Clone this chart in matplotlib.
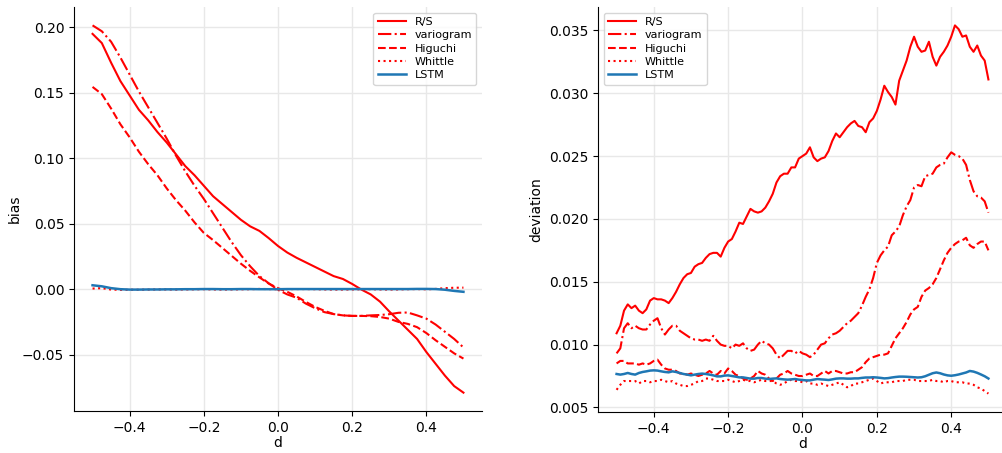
import numpy as np
import matplotlib
matplotlib.use('Agg')
import matplotlib.pyplot as plt

# ---- bias panel (left), read every 0.025 in d ----
d_bias = np.round(np.arange(-0.5, 0.5001, 0.025), 3)

rs_bias = [0.195, 0.188, 0.173, 0.159, 0.148, 0.137, 0.129, 0.120, 0.112, 0.103,
           0.094, 0.087, 0.079, 0.071, 0.065, 0.059, 0.053, 0.048, 0.0445, 0.039,
           0.033, 0.028, 0.024, 0.0205, 0.017, 0.0135, 0.010, 0.0078, 0.004, -0.0003,
           -0.004, -0.0095, -0.017, -0.024, -0.031, -0.038, -0.048, -0.057, -0.066, -0.074,
           -0.079]
vario_bias = [0.2015, 0.197, 0.189, 0.177, 0.164, 0.151, 0.139, 0.127, 0.115, 0.102,
              0.090, 0.079, 0.069, 0.058, 0.047, 0.036, 0.026, 0.0175, 0.010, 0.0045,
              -0.0005, -0.004, -0.0065, -0.011, -0.0145, -0.0175, -0.019, -0.020, -0.0204, -0.0204,
              -0.020, -0.0197, -0.0191, -0.018, -0.0178, -0.020, -0.0225, -0.027, -0.0325, -0.038,
              -0.0445]
higuchi_bias = [0.1545, 0.149, 0.138, 0.126, 0.116, 0.105, 0.0955, 0.087, 0.077, 0.068,
                0.060, 0.051, 0.043, 0.0375, 0.0315, 0.0255, 0.0195, 0.014, 0.009, 0.0043,
                0.0008, -0.002, -0.0055, -0.0097, -0.0135, -0.0165, -0.019, -0.020, -0.0204, -0.0204,
                -0.0206, -0.0212, -0.0225, -0.025, -0.0265, -0.029, -0.0335, -0.039, -0.044, -0.049,
                -0.053]
whittle_bias = [0.0005, 0.0008, -0.0003, -0.0005, -0.0004, -0.0004, -0.0003, -0.0002, -0.0002, -0.0003,
                -0.0002, -0.0001, 0.0, -0.0002, -0.0003, -0.0002, -0.0001, 0.0, 0.0002, 0.0001,
                -0.0001, 0.0, 0.0001, 0.0001, 0.0, -0.0002, -0.0003, -0.0003, -0.0002, -0.0001,
                0.0, -0.0002, -0.0003, -0.0002, 0.0, 0.0001, -0.0001, 0.0002, 0.0008, 0.0011,
                0.0012]
lstm_bias = [0.003, 0.0022, 0.0008, 0.0, -0.0003, -0.0003, -0.0002, -0.0002, -0.0001, -0.0001,
             0.0, 0.0, 0.0001, 0.0001, 0.0, 0.0, 0.0001, 0.0001, 0.0, 0.0,
             0.0, 0.0001, 0.0001, 0.0001, 0.0001, 0.0001, 0.0001, 0.0001, 0.0001, 0.0001,
             0.0001, 0.0001, 0.0001, 0.0001, 0.0001, 0.0002, 0.0002, 0.0001, -0.0004, -0.0013,
             -0.002]

# ---- deviation panel (right), read every 0.01 in d ----
d_dev = np.round(np.arange(-0.5, 0.5001, 0.01), 2)

rs_dev = [0.0109, 0.0115, 0.0127, 0.0132, 0.0129, 0.0131, 0.0127, 0.0125, 0.0128, 0.0135,
          0.0137, 0.0136, 0.0136, 0.0135, 0.0133, 0.0137, 0.0142, 0.0148, 0.0153, 0.0156,
          0.0157, 0.0162, 0.0164, 0.0165, 0.0169, 0.0172, 0.0173, 0.0173, 0.0170, 0.0177,
          0.0182, 0.0184, 0.0190, 0.0197, 0.0196, 0.0202, 0.0208, 0.0206, 0.0205, 0.0206,
          0.0209, 0.0214, 0.0220, 0.0229, 0.0234, 0.0236, 0.0236, 0.0241, 0.0241, 0.0248,
          0.0250, 0.0252, 0.0257, 0.0249, 0.0246, 0.0248, 0.0249, 0.0254, 0.0262, 0.0268,
          0.0265, 0.0269, 0.0273, 0.0276, 0.0278, 0.0274, 0.0273, 0.0269, 0.0277, 0.0280,
          0.0286, 0.0295, 0.0306, 0.0301, 0.0297, 0.0291, 0.0310, 0.0318, 0.0326, 0.0337,
          0.0345, 0.0337, 0.0333, 0.0334, 0.0341, 0.0329, 0.0322, 0.0329, 0.0333, 0.0338,
          0.0345, 0.0354, 0.0351, 0.0345, 0.0346, 0.0337, 0.0333, 0.0338, 0.0330, 0.0326,
          0.0311]
vario_dev = [0.0093, 0.0097, 0.0113, 0.0117, 0.0113, 0.0115, 0.0113, 0.0112, 0.0112, 0.0116,
             0.0119, 0.0121, 0.0113, 0.0108, 0.0112, 0.0115, 0.0115, 0.0111, 0.0109, 0.0107,
             0.0105, 0.0104, 0.0104, 0.0103, 0.0104, 0.0103, 0.0107, 0.0103, 0.0100, 0.0099,
             0.0099, 0.0097, 0.0100, 0.0099, 0.0101, 0.0097, 0.0095, 0.0096, 0.0100, 0.0103,
             0.0101, 0.0100, 0.0097, 0.0092, 0.0089, 0.0092, 0.0095, 0.0095, 0.0093, 0.0095,
             0.0093, 0.0092, 0.0090, 0.0092, 0.0096, 0.0100, 0.0101, 0.0105, 0.0108, 0.0109,
             0.0111, 0.0114, 0.0117, 0.0119, 0.0122, 0.0125, 0.0131, 0.0138, 0.0144, 0.0153,
             0.0165, 0.0171, 0.0175, 0.0178, 0.0187, 0.0190, 0.0194, 0.0203, 0.0210, 0.0215,
             0.0225, 0.0227, 0.0226, 0.0234, 0.0235, 0.0236, 0.0241, 0.0243, 0.0244, 0.0249,
             0.0253, 0.0251, 0.0250, 0.0248, 0.0243, 0.0231, 0.0222, 0.0218, 0.0217, 0.0214,
             0.0205]
higuchi_dev = [0.0085, 0.0087, 0.0087, 0.0085, 0.0085, 0.0085, 0.0084, 0.0085, 0.0084, 0.0085,
               0.0087, 0.0088, 0.0084, 0.0081, 0.0080, 0.0080, 0.0079, 0.0077, 0.0077, 0.0076,
               0.0077, 0.0076, 0.0075, 0.0076, 0.0077, 0.0079, 0.0077, 0.0076, 0.0079, 0.0077,
               0.0081, 0.0079, 0.0076, 0.0075, 0.0073, 0.0072, 0.0073, 0.0075, 0.0079, 0.0077,
               0.0076, 0.0073, 0.0071, 0.0073, 0.0076, 0.0077, 0.0079, 0.0077, 0.0076, 0.0075,
               0.0075, 0.0076, 0.0077, 0.0075, 0.0075, 0.0077, 0.0079, 0.0077, 0.0079, 0.0079,
               0.0078, 0.0077, 0.0077, 0.0078, 0.0078, 0.0080, 0.0082, 0.0086, 0.0089, 0.0090,
               0.0091, 0.0092, 0.0092, 0.0093, 0.0099, 0.0105, 0.0109, 0.0113, 0.0118, 0.0124,
               0.0128, 0.0130, 0.0138, 0.0143, 0.0145, 0.0148, 0.0153, 0.0160, 0.0167, 0.0173,
               0.0177, 0.0180, 0.0182, 0.0183, 0.0185, 0.0179, 0.0177, 0.0180, 0.0182, 0.0182,
               0.0175]
whittle_dev = [0.0064, 0.0068, 0.0071, 0.0071, 0.0071, 0.0071, 0.0069, 0.0071, 0.0071, 0.0070,
               0.0071, 0.0071, 0.0072, 0.0071, 0.0070, 0.0071, 0.0069, 0.0068, 0.0067, 0.0067,
               0.0068, 0.0069, 0.0071, 0.0071, 0.0073, 0.0073, 0.0072, 0.0071, 0.0071, 0.0071,
               0.0072, 0.0071, 0.0070, 0.0071, 0.0072, 0.0071, 0.0071, 0.0070, 0.0071, 0.0072,
               0.0071, 0.0071, 0.0071, 0.0069, 0.0068, 0.0069, 0.0071, 0.0072, 0.0071, 0.0071,
               0.0070, 0.0071, 0.0069, 0.0069, 0.0068, 0.0069, 0.0068, 0.0067, 0.0068, 0.0069,
               0.0070, 0.0068, 0.0066, 0.0067, 0.0069, 0.0069, 0.0070, 0.0071, 0.0072, 0.0073,
               0.0071, 0.0069, 0.0070, 0.0070, 0.0070, 0.0071, 0.0071, 0.0071, 0.0072, 0.0072,
               0.0072, 0.0071, 0.0071, 0.0071, 0.0071, 0.0072, 0.0071, 0.0071, 0.0070, 0.0071,
               0.0071, 0.0070, 0.0070, 0.0070, 0.0069, 0.0069, 0.0068, 0.0066, 0.0065, 0.0063,
               0.0061]
lstm_dev = [0.00766, 0.00761, 0.00766, 0.00774, 0.00766, 0.00761, 0.00774, 0.00782, 0.00787, 0.00793,
            0.00795, 0.00793, 0.00787, 0.00782, 0.00779, 0.00787, 0.00782, 0.00774, 0.00766, 0.00761,
            0.00755, 0.00761, 0.00766, 0.00769, 0.00766, 0.00761, 0.00755, 0.00747, 0.00747, 0.00753,
            0.00755, 0.00750, 0.00745, 0.00739, 0.00739, 0.00734, 0.00729, 0.00729, 0.00734, 0.00734,
            0.00729, 0.00726, 0.00729, 0.00731, 0.00726, 0.00723, 0.00721, 0.00723, 0.00726, 0.00721,
            0.00718, 0.00715, 0.00715, 0.00721, 0.00726, 0.00723, 0.00721, 0.00718, 0.00723, 0.00729,
            0.00731, 0.00731, 0.00729, 0.00729, 0.00731, 0.00731, 0.00735, 0.00738, 0.00738, 0.00740,
            0.00738, 0.00735, 0.00731, 0.00733, 0.00738, 0.00742, 0.00745, 0.00745, 0.00744, 0.00742,
            0.00740, 0.00738, 0.00740, 0.00748, 0.00760, 0.00772, 0.00778, 0.00772, 0.00762, 0.00755,
            0.00752, 0.00756, 0.00762, 0.00770, 0.00778, 0.00790, 0.00785, 0.00775, 0.00762, 0.00748,
            0.00730]

labels = ['R/S', 'variogram', 'Higuchi', 'Whittle', 'LSTM']
styles = ['-', '-.', '--', ':', '-']
colors = ['red', 'red', 'red', 'red', '#1f77b4']

plt.rcParams['font.family'] = 'DejaVu Sans'
fig = plt.figure(figsize=(10.03, 4.53), dpi=100)
ax1 = fig.add_axes([74 / 1003, 42 / 453, 408 / 1003, 404 / 453])
ax2 = fig.add_axes([598 / 1003, 41 / 453, 409 / 1003, 405 / 453])


def draw(ax, d, series, ylabel, loc, ypad):
    for y, lab, ls, c in zip(series, labels, styles, colors):
        lw = 1.8 if lab == 'LSTM' else 1.5
        ax.plot(d, y, linestyle=ls, color=c, lw=lw, label=lab)
    ax.grid(True, color='#e8e8e8', lw=1)
    ax.set_axisbelow(True)
    for s in ['top', 'right']:
        ax.spines[s].set_visible(False)
    ax.tick_params(labelsize=10, direction='out', length=3.5)
    ax.set_xlabel('d', fontsize=10, labelpad=1)
    ax.set_ylabel(ylabel, fontsize=10, labelpad=ypad)
    ax.set_xticks([-0.4, -0.2, 0.0, 0.2, 0.4])
    ax.set_xlim(-0.55, 0.55)
    ax.legend(loc=loc, fontsize=8, handlelength=2.5, borderpad=0.4, labelspacing=0.3)


draw(ax1, d_bias, [rs_bias, vario_bias, higuchi_bias, whittle_bias, lstm_bias], 'bias', 'upper right', 0)
draw(ax2, d_dev, [rs_dev, vario_dev, higuchi_dev, whittle_dev, lstm_dev], 'deviation', 'upper left', 4)
ax2.set_yticks([0.005, 0.010, 0.015, 0.020, 0.025, 0.030, 0.035])

fig.savefig('out.png', dpi=100)
